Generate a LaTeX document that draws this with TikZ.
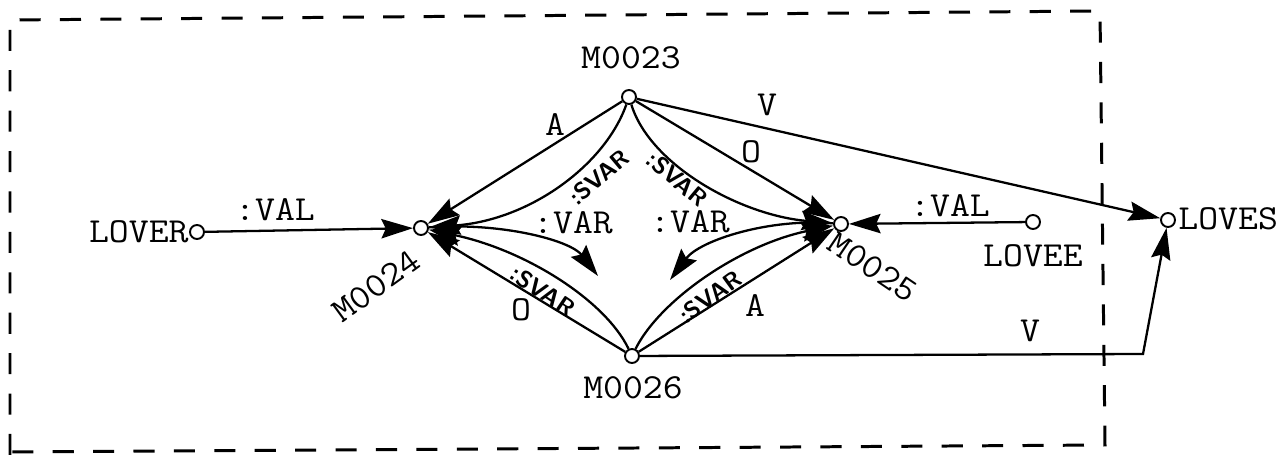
\documentclass[tikz,border=0pt]{standalone}
\usepackage{fontspec}
\usetikzlibrary{arrows.meta}
\begin{document}
\begin{tikzpicture}[x=0.02cm,y=-0.02cm,
  dot/.style={circle,draw,line width=1.1pt,minimum size=0.28cm,inner sep=0pt,fill=white},
  tt/.style={font=\ttfamily\fontsize{20}{22}\selectfont,inner sep=0pt},
  wide/.style={xscale=1.1},
  sv/.style={font=\sffamily\bfseries\fontsize{13.5}{15}\selectfont,inner sep=0pt},
  link/.style={line width=1.3pt,-{Stealth[length=18pt,width=11pt,inset=2.5pt]}},
  frame/.style={line width=1.7pt,dash pattern=on 12pt off 11pt}]
\useasboundingbox (0,0) rectangle (1282,455);

% dashed enclosure
\draw[frame] (10,455) -- (10,20) -- (1100,11) -- (1105,445) -- (10,452);

% network nodes
\node[dot] (m23) at (629,97) {};
\node[dot] (m24) at (421,228) {};
\node[dot] (m25) at (841,224) {};
\node[dot] (m26) at (632,356) {};
\node[dot] (lover) at (197,232) {};
\node[dot] (lovee) at (1033,222) {};
\node[dot] (loves) at (1168,220) {};
\coordinate (varL) at (598,276);
\coordinate (varR) at (670,280);
\coordinate (corner) at (1143,354);

% node names
\node[tt,wide] (t23) at (631,58) {M0023};
\node[tt,wide] (t26) at (633,388) {M0026};
\node[tt,rotate=36,wide] (t24) at (376,286) {M0024};
\node[tt,rotate=-34,wide] (t25) at (873,267) {M0025};
\node[tt,wide,anchor=east] (tlover) at (189,232) {LOVER};
\node[tt,wide] (tlovee) at (1033,256) {LOVEE};
\node[tt,wide,anchor=west] (tloves) at (1178,219) {LOVES};

% arcs
\draw[link] (m23) -- (m24);
\draw[link] (m23) .. controls (605,165) and (530,220) .. (m24);
\draw[link] (m26) -- (m24);
\draw[link] (m26) .. controls (605,300) and (525,250) .. (m24);
\draw[link] (m23) -- (m25);
\draw[link] (m23) .. controls (650,165) and (740,215) .. (m25);
\draw[link] (m26) -- (m25);
\draw[link] (m26) .. controls (660,300) and (740,245) .. (m25);
\draw[link] (m24) .. controls (500,222) and (570,240) .. (varL);
\draw[link] (m25) .. controls (770,218) and (700,240) .. (varR);
\draw[link] (m23) -- (loves);
\draw[link] (m26) -- (corner) -- (loves);
\draw[link] (lover) -- (m24);
\draw[link] (lovee) -- (m25);

% arc labels
\node[tt,wide] (la1) at (555,125) {A};
\node[tt,wide] (lo1) at (751,152) {O};
\node[tt,wide] (lv1) at (767,105) {V};
\node[tt,wide] (lo2) at (521,310) {O};
\node[tt,wide] (la2) at (755,306) {A};
\node[tt,wide] (lv2) at (1030,331) {V};
\node[tt,wide] (lvar1) at (573,223) {:VAR};
\node[tt,wide] (lvar2) at (690,222) {:VAR};
\node[tt,wide] (lval1) at (275,210) {:VAL};
\node[tt,wide] (lval2) at (950,206) {:VAL};
\node[sv,rotate=40] (ls1) at (599,177) {:SVAR};
\node[sv,rotate=-40] (ls2) at (677,179) {:SVAR};
\node[sv,rotate=-34] (ls3) at (543,291) {:SVAR};
\node[sv,rotate=36] (ls4) at (710,297) {:SVAR};
\end{tikzpicture}
\end{document}
